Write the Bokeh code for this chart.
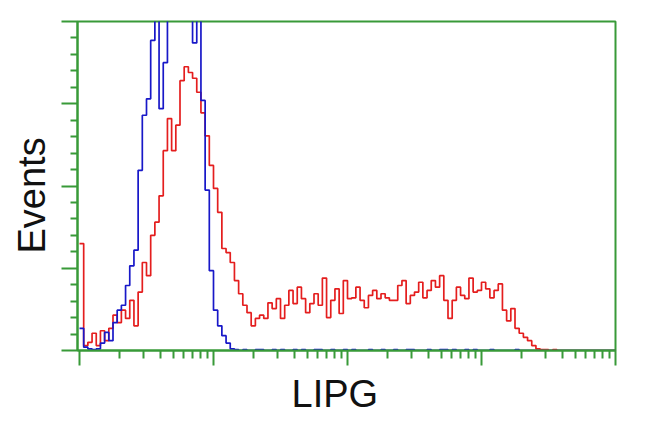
import math
from bokeh.plotting import figure
from bokeh.models import Range1d, FixedTicker, CustomJSTickFormatter, Title
from bokeh.embed import file_html
from bokeh.resources import INLINE

# ---- data: histogram counts per channel (32 channels per decade, 4 decades) ----
channels_per_decade = 32
red_counts = [130, 6, 10, 21, 6, 24, 12, 27, 43, 34,
              49, 39, 61, 30, 71, 107, 91, 140, 156, 188,
              243, 282, 243, 274, 328, 345, 338, 331, 314, 289,
              261, 225, 197, 168, 124, 119, 107, 85, 69, 55,
              46, 30, 39, 43, 39, 58, 51, 63, 39, 55,
              73, 57, 77, 63, 46, 57, 69, 55, 88, 40,
              61, 75, 45, 85, 63, 64, 77, 61, 52, 67,
              73, 63, 69, 64, 61, 61, 79, 85, 57, 67,
              71, 83, 64, 73, 85, 77, 91, 61, 39, 61,
              77, 67, 63, 88, 71, 73, 83, 75, 64, 73,
              81, 49, 36, 51, 27, 21, 16, 12, 6, 2,
              1, 1, 0, 1, 0, 0, 0, 0, 0, 0,
              0, 0, 0, 0, 0, 0, 0, 0]
blue_counts = [27, 4, 2, 1, 2, 9, 22, 12, 34, 49,
               55, 79, 103, 122, 219, 286, 306, 377, 450, 294,
               350, 470, 520, 560, 540, 500, 460, 374, 430, 304,
               195, 97, 49, 30, 18, 9, 2,
               1, 0, 1, 0, 0,
               1, 1, 0, 0, 1, 0, 1, 0, 0, 1,
               0, 1, 0, 0, 1, 1, 0, 0, 1, 0,
               0, 1, 0, 1, 0, 0, 0, 1, 0, 0,
               1, 0, 0, 1, 0, 0, 1, 1, 0, 0,
               0, 1, 0, 0, 1, 1, 0, 1, 0, 0,
               1, 0, 1, 0, 0, 0, 1, 0, 0, 0,
               0, 0, 1, 0, 0, 0, 0, 0, 0, 0,
               0, 0, 0, 0, 0, 0, 0, 0, 0, 0, 0, 0, 0, 0, 0, 0]
x_major_ticks = [1, 10, 100, 1000, 10000]
x_minor_ticks = [m * 10 ** k for k in range(4) for m in range(2, 10)]
y_major_ticks = [0, 100, 200, 300, 400]
y_minor_ticks = [v for v in range(0, 401, 20) if v % 100]
x_label = "LIPG"
y_label = "Events"

GREEN = "#389a38"
RED = "#e41e1e"
BLUE = "#1818c8"

edges = [10 ** (i / channels_per_decade) for i in range(len(red_counts) + 1)]
red_y = red_counts + [red_counts[-1]]
blue_y = blue_counts + [blue_counts[-1]]

p = figure(width=642, height=424, x_axis_type="log",
           x_range=Range1d(10 ** (-2 / 134), 1e4), y_range=Range1d(0, 400),
           output_backend="svg", toolbar_location=None,
           min_border_left=76, min_border_right=27, min_border_top=21, min_border_bottom=74)

p.xgrid.visible = False
p.ygrid.visible = False
p.background_fill_color = "white"
p.border_fill_color = "white"
p.outline_line_color = GREEN
p.outline_line_width = 2

p.xaxis.ticker = FixedTicker(ticks=x_major_ticks, minor_ticks=x_minor_ticks)
p.yaxis.ticker = FixedTicker(ticks=y_major_ticks, minor_ticks=y_minor_ticks)
for ax in (p.xaxis, p.yaxis):
    ax.formatter = CustomJSTickFormatter(code="return ''")
    ax.axis_line_color = GREEN
    ax.axis_line_width = 2
    ax.major_tick_line_color = GREEN
    ax.major_tick_line_width = 2
    ax.minor_tick_line_color = GREEN
    ax.minor_tick_line_width = 2
    ax.major_tick_in = 0
    ax.minor_tick_in = 0
    ax.major_label_standoff = 0
p.xaxis.major_tick_out = 15
p.xaxis.minor_tick_out = 8
p.yaxis.major_tick_out = 16
p.yaxis.minor_tick_out = 7

p.step(edges, red_y, mode="after", line_color=RED, line_width=1.7)
p.step(edges, blue_y, mode="after", line_color=BLUE, line_width=1.7)

p.add_layout(Title(text=x_label, align="left", offset=214, text_font="Liberation Sans",
                   text_font_size="38px", text_font_style="normal",
                   text_color="#111111", standoff=10), "below")
p.add_layout(Title(text=y_label, align="left", offset=97, text_font="Liberation Sans",
                   text_font_size="38px", text_font_style="normal",
                   text_color="#111111", standoff=17), "left")

open("out.html", "w").write(file_html(p, INLINE))
